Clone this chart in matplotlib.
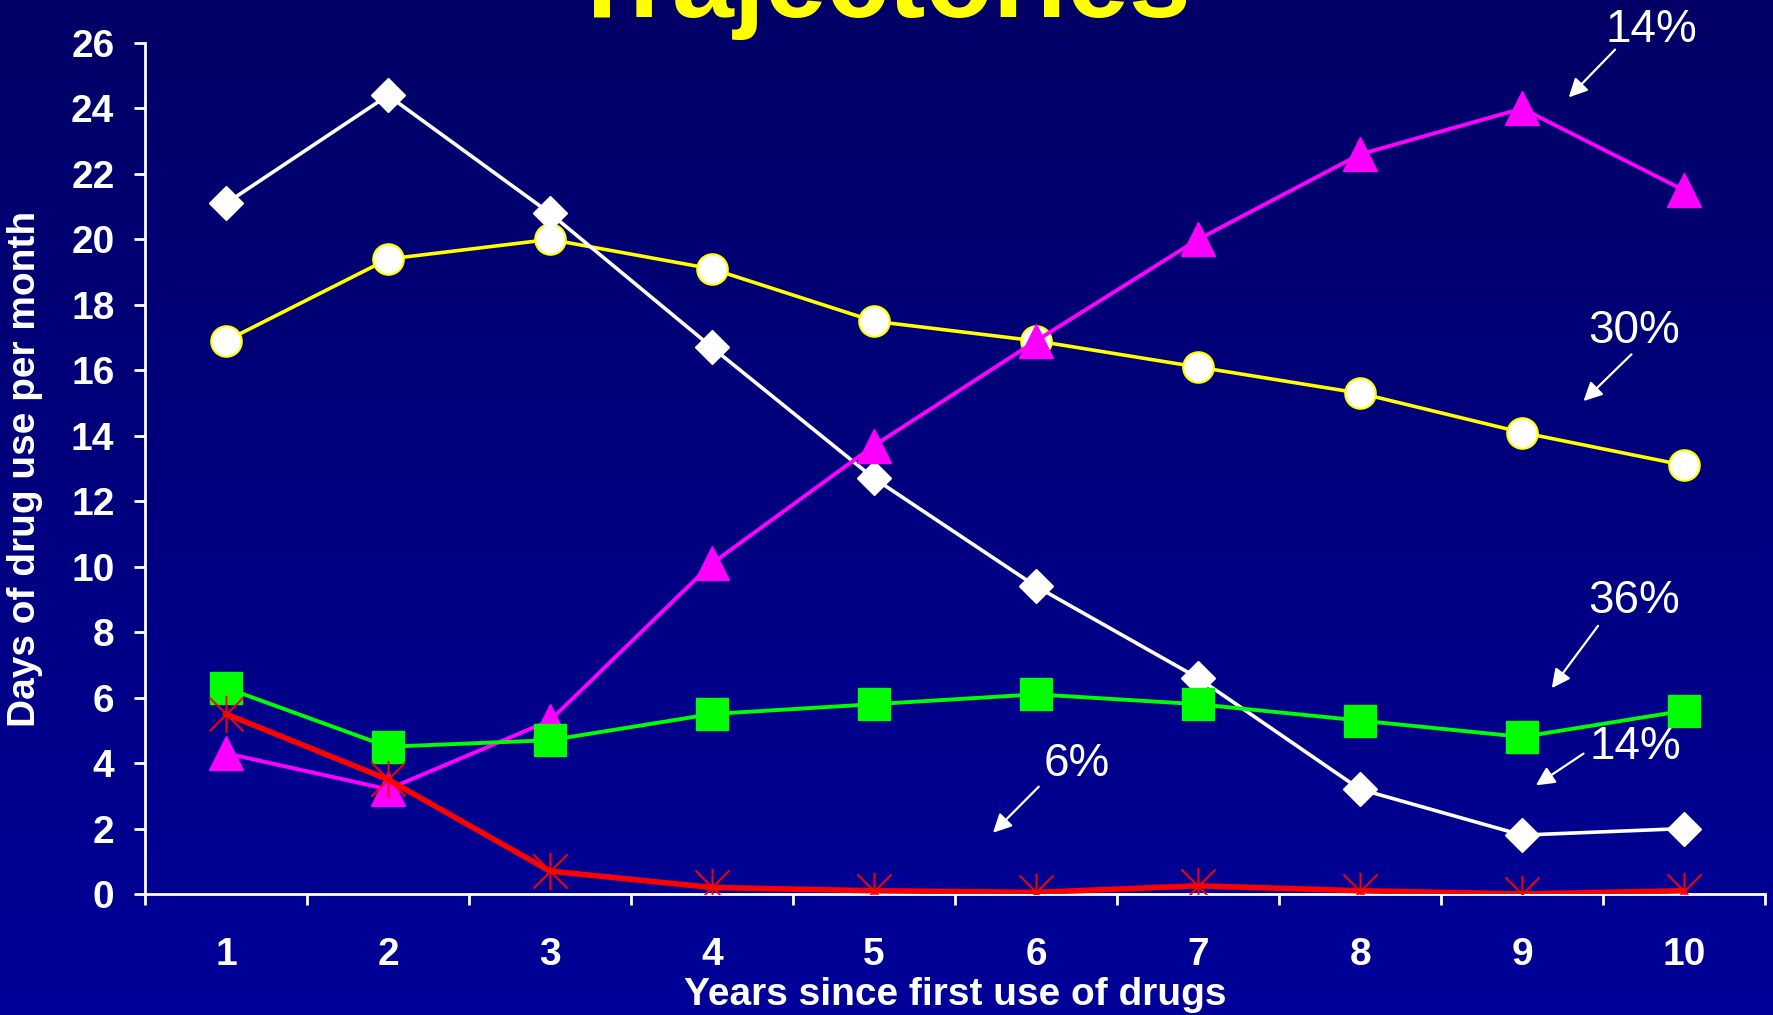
import numpy as np
import matplotlib
matplotlib.use("Agg")
import matplotlib.pyplot as plt
from matplotlib.path import Path

plt.rcParams['font.family'] = ['Liberation Sans', 'DejaVu Sans']

years = [1, 2, 3, 4, 5, 6, 7, 8, 9, 10]
decliners = [21.1, 24.4, 20.8, 16.7, 12.7, 9.4, 6.6, 3.2, 1.8, 2.0]
chronic = [16.9, 19.4, 20.0, 19.1, 17.5, 16.9, 16.1, 15.3, 14.1, 13.1]
escalators = [4.3, 3.2, 5.3, 10.1, 13.7, 16.9, 20.0, 22.6, 24.0, 21.5]
low_stable = [6.3, 4.5, 4.7, 5.5, 5.8, 6.1, 5.8, 5.3, 4.8, 5.6]
quitters = [5.5, 3.5, 0.7, 0.2, 0.1, 0.05, 0.25, 0.1, 0.0, 0.1]

# group share labels: text, text position, arrow tail, arrow head
shares = [
    ("14%", (9.80, 26.4), (9.574, 25.80), (9.288, 24.34)),
    ("30%", (9.69, 17.2), (9.675, 16.49), (9.379, 15.06)),
    ("36%", (9.69, 8.95), (9.469, 8.195), (9.183, 6.29)),
    ("14%", (9.70, 4.5), (9.379, 4.29), (9.085, 3.32)),
    ("6%", (6.25, 3.97), (6.017, 3.28), (5.734, 1.87)),
]

# asterisk marker: X plus a vertical stroke
star = Path([(-1, -1), (1, 1), (-1, 1), (1, -1), (0, -1.1), (0, 1.1)],
            [Path.MOVETO, Path.LINETO, Path.MOVETO, Path.LINETO, Path.MOVETO, Path.LINETO])

fig = plt.figure(figsize=(17.74, 10.15), dpi=100)

# vertical gradient background
bg = fig.add_axes([0, 0, 1, 1], zorder=-1)
grad = np.linspace(0, 1, 256).reshape(-1, 1)
top = np.array([0x00, 0x00, 0x66]) / 255
bottom = np.array([0x00, 0x00, 0x99]) / 255
img = top + (bottom - top) * grad[:, :, None]
bg.imshow(img, aspect='auto', extent=[0, 1, 0, 1], origin='upper')
bg.axis('off')

ax = fig.add_axes([0.0817, 0.1192, 0.9133, 0.8384])
ax.set_facecolor('none')

ax.plot(years, chronic, color='#FFFF00', lw=2.6, marker='o', ms=22,
        mfc='white', mec='#FFFF00', mew=1.5, zorder=3)
ax.plot(years, decliners, color='white', lw=2.6, marker='D', ms=17,
        mfc='white', mec='white', zorder=4)
ax.plot(years, escalators, color='#FF00FF', lw=2.8, marker='^', ms=25,
        mfc='#FF00FF', mec='#FF00FF', zorder=5)
ax.plot(years, low_stable, color='#00FF00', lw=2.8, marker='s', ms=23,
        mfc='#00FF00', mec='#00FF00', zorder=6)
ax.plot(years, quitters, color='#FF0000', lw=4, marker=star, ms=27,
        mec='#FF0000', mew=1.4, zorder=7)

ax.set_xlim(0.5, 10.5)
ax.set_ylim(0, 26)
ax.set_yticks(np.arange(0, 27, 2))
ax.set_xticks(years)
ax.set_xticks(np.arange(0.5, 11, 1), minor=True)

for s in ['top', 'right']:
    ax.spines[s].set_visible(False)
for s in ['left', 'bottom']:
    ax.spines[s].set_color('white')
    ax.spines[s].set_linewidth(2)

ax.tick_params(axis='y', colors='white', length=8, width=2, pad=14,
               labelsize=28)
ax.tick_params(axis='x', which='major', colors='white', length=0, pad=31,
               labelsize=28)
ax.tick_params(axis='x', which='minor', colors='white', length=8, width=2)
for lab in ax.get_xticklabels() + ax.get_yticklabels():
    lab.set_fontweight('bold')

ax.set_xlabel('Years since first use of drugs', color='white',
              fontsize=28, fontweight='bold')
ax.xaxis.set_label_coords(0.5, -0.098)
ax.set_ylabel('Days of drug use per month', color='white',
              fontsize=28, fontweight='bold')
ax.yaxis.set_label_coords(-0.063, 0.5)

for label, txt_xy, tail, head in shares:
    ax.text(txt_xy[0], txt_xy[1], label, color='white', fontsize=33,
            ha='center', va='center', clip_on=False)
    ax.annotate('', xy=head, xytext=tail,
                arrowprops=dict(arrowstyle='-|>', color='white', lw=1.6,
                                mutation_scale=28, shrinkA=0, shrinkB=0),
                annotation_clip=False)

fig.text(0.496, 0.983, 'Trajectories', color='#FFFF00', fontsize=80,
         fontweight='bold', ha='center', va='baseline')

fig.savefig('out.png', dpi=100)
